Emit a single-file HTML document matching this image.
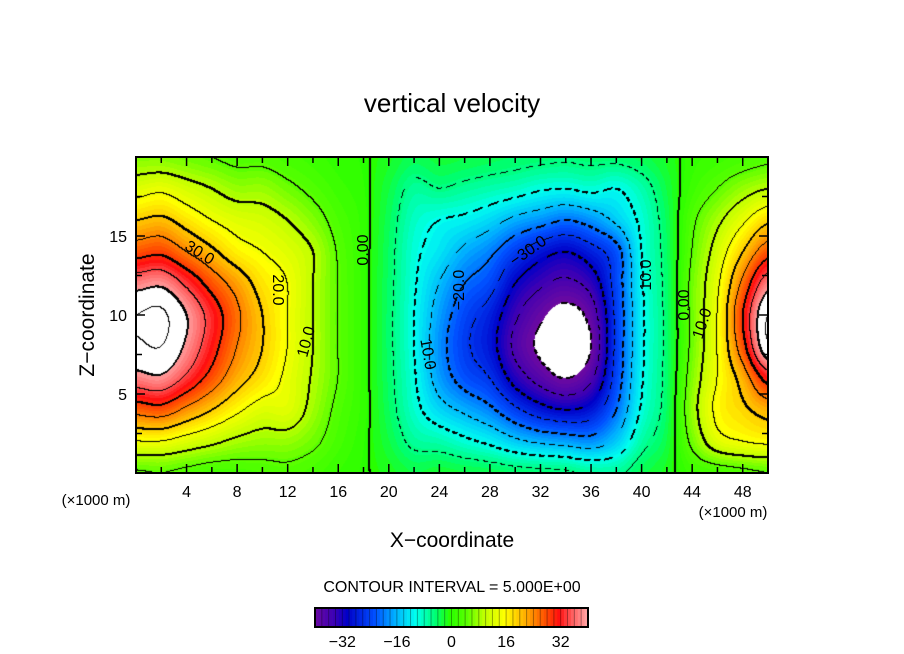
<!DOCTYPE html>
<html><head><meta charset="utf-8">
<style>
body{margin:0;background:#fff;width:904px;height:654px;overflow:hidden;position:relative;font-family:"Liberation Sans",sans-serif}
#field{position:absolute;left:136px;top:157px}
svg{position:absolute;left:0;top:0}
</style></head>
<body>
<canvas id="field" width="632" height="316"></canvas>
<svg id="svg" width="904" height="654"></svg>
<script>
// grid x = 0,2,...,50 ; z = 0,2,...,20 (rows by z ascending)
const xs = [0,2,4,6,8,10,12,14,16,18,20,22,24,26,28,30,32,34,36,38,40,42,44,46,48,50];
const zs = [0,2,4,6,8,10,12,14,16,18,20];
const grid = [
 [4.5,5,4,3,3,3.5,4,3,1.5,0.3, -1,-2.5,-1.8,-2.4,-2.8,-3.6,-4.1,-4.4,-6,-6,-3,-1, 2,3,4,5],
 [15,15,13,11,9,8,8,6,3,0.6, -2.4,-6,-7,-9,-11,-14,-16,-17,-18,-14,-6.6,-2.4, 6,13,15,16],
 [27,28,24,20,16,13,13,8.5,4,1, -3.4,-8.5,-13,-16,-19,-24,-28,-30,-28,-20,-9.4,-3.4, 8,16,19,22],
 [38,39,34,28,22,18,14,9.5,5,1, -3.8,-9.5,-17,-22,-25,-32,-37,-40,-36,-23,-10.5,-3.8, 7,15,22,32],
 [44,45,39,32,25,20,15,10,5,1, -4,-10,-18,-24,-28,-36,-41,-44,-40,-24,-11,-4, 6,15,28,44],
 [45,46,40,33,26,20,15,10,5,1, -4,-10,-17,-23,-27,-34,-39,-42,-38,-24,-11,-4, 6,15,30,45],
 [38,39,34,28,23,18,15,10,5,1, -3.8,-9.5,-15,-20,-23,-30,-34,-36,-33,-23,-10.5,-3.8, 6,14,26,38],
 [28,29,25,21,17,15,13,10,4.7,1, -3.6,-9,-12,-16,-19,-24,-28,-30,-27,-22,-10,-3.6, 5,12,20,28],
 [20,21,18,15,13,12,10,7,3.5,1, -3.2,-8,-10,-11,-13,-16,-18,-20,-18,-14,-9,-3.2, 4,9,14,19],
 [13,14,12,10,8,8,6,4,2,0.6, -2.4,-6,-5,-6,-7,-8,-9.5,-10,-9,-10,-7,-2.4, 2,5,8,10],
 [7,7,6,5,4,4,3,2,1,0.3, -1.2,-3,-2,-2.4,-3,-3.6,-4,-4.4,-4,-4,-3,-1.2, 1,2,3,4]
];
const cbTicks = [-32,-16,0,16,32];
const xTicks = [4,8,12,16,20,24,28,32,36,40,44,48];
const zTicks = [5,10,15];
const stopV = [-40,-34,-30,-22,-16,-10,-4,0,5,10,16,22,28,32,36,40];
const stopC = [[110,10,160],[60,0,180],[0,0,200],[0,80,255],[0,176,255],[0,255,238],[0,255,110],[40,255,0],[90,255,0],[190,255,0],[255,255,0],[255,176,0],[255,80,0],[255,16,16],[255,96,96],[255,160,160]];

const X0=136,W=632,Z0=473,H=316, PX=12.64, PZ=15.8;
const sx=x=>X0+x*PX, sz=z=>Z0-z*PZ;
function color(v){
  if(v>40||v<-40) return [255,255,255];
  v=Math.round(v);
  for(let i=0;i<stopV.length-1;i++){
    if(v<=stopV[i+1]){const t=(v-stopV[i])/(stopV[i+1]-stopV[i]);
      return stopC[i].map((c,k)=>Math.round(c+(stopC[i+1][k]-c)*t));}
  }
  return stopC[stopC.length-1];
}
function cr(p0,p1,p2,p3,t){
  return 0.5*((2*p1)+(-p0+p2)*t+(2*p0-5*p1+4*p2-p3)*t*t+(-p0+3*p1-3*p2+p3)*t*t*t);
}
function g(j,i){j=Math.max(0,Math.min(zs.length-1,j));i=Math.max(0,Math.min(xs.length-1,i));return grid[j][i];}
function val(x,z){
  let i=Math.min(Math.max(Math.floor(x/2),0),xs.length-2), j=Math.min(Math.max(Math.floor(z/2),0),zs.length-2);
  let tx=Math.min(Math.max((x-xs[i])/2,0),1), tz=Math.min(Math.max((z-zs[j])/2,0),1);
  const r=[];
  for(let jj=-1;jj<=2;jj++) r.push(cr(g(j+jj,i-1),g(j+jj,i),g(j+jj,i+1),g(j+jj,i+2),tx));
  return cr(r[0],r[1],r[2],r[3],tz);
}
const cv=document.getElementById('field'),ctx=cv.getContext('2d');
const img=ctx.createImageData(W,H);
const V=new Float32Array(W*H);
for(let py=0;py<H;py++)for(let px=0;px<W;px++){
  V[py*W+px]=val((px+0.5)/PX,(H-py-0.5)/PZ);
}
const M=new Uint8Array(W*H);
function mark(px,py,m,neg,thick){
  if(neg&&((px+py)%10)>=6)return;
  M[py*W+px]=1;
  if(thick){ if(px+1<W)M[py*W+px+1]=1; if(py+1<H)M[(py+1)*W+px]=1; }
}
for(let py=0;py<H;py++)for(let px=0;px<W;px++){
  const v=V[py*W+px],lv=Math.floor(v/5);
  if(px<W-1){const l2=Math.floor(V[py*W+px+1]/5);if(l2!==lv){const m=Math.max(lv,l2)*5;mark(px,py,m,m<0,m%10===0);}}
  if(py<H-1){const l2=Math.floor(V[(py+1)*W+px]/5);if(l2!==lv){const m=Math.max(lv,l2)*5;mark(px,py,m,m<0,m%10===0);}}
}
for(let py=0;py<H;py++)for(let px=0;px<W;px++){
  const c=M[py*W+px]?[0,0,0]:color(V[py*W+px]);
  const k=(py*W+px)*4;img.data[k]=c[0];img.data[k+1]=c[1];img.data[k+2]=c[2];img.data[k+3]=255;
}
ctx.putImageData(img,0,0);

const NS='http://www.w3.org/2000/svg',svg=document.getElementById('svg');
function el(tag,attrs,parent){const e=document.createElementNS(NS,tag);for(const k in attrs)e.setAttribute(k,attrs[k]);(parent||svg).appendChild(e);return e;}
function txt(s,x,y,size,anchor,rot,name){
  const t=el('text',{x:x,y:y,'font-size':size,'text-anchor':anchor||'middle','font-family':'Liberation Sans, sans-serif',fill:'#000'});
  if(rot)t.setAttribute('transform','rotate('+rot+' '+x+' '+y+')');
  t.textContent=s;
  
  
  return t;
}
const fr=el('rect',{x:X0,y:157,width:W,height:H,fill:'none',stroke:'#000','stroke-width':2});


for(let x=2;x<50;x+=2){
  const L=(x%4===0)?9:6;
  const t1=el('line',{x1:sx(x),x2:sx(x),y1:Z0,y2:Z0-L,stroke:'#000','stroke-width':1.5});
  
  
  const t2=el('line',{x1:sx(x),x2:sx(x),y1:157,y2:157+L,stroke:'#000','stroke-width':1.5});
  
  
}
for(let z=2.5;z<20;z+=2.5){
  const L=(z%5===0)?9:6;
  const t1=el('line',{x1:X0,x2:X0+L,y1:sz(z),y2:sz(z),stroke:'#000','stroke-width':1.5});
  
  
  const t2=el('line',{x1:X0+W-L,x2:X0+W,y1:sz(z),y2:sz(z),stroke:'#000','stroke-width':1.5});
  
  
}
xTicks.forEach(x=>txt(String(x),sx(x),497,16,'middle',0,'x-tick-label'));
zTicks.forEach(z=>txt(String(z),127,sz(z)+6,16,'end',0,'z-tick-label'));
txt('vertical velocity',452,112,26,'middle',0,'chart-title');
txt('X\u2212coordinate',452,547,21,'middle',0,'x-axis-title');
txt('Z\u2212coordinate',94,315,21,'middle',-90,'z-axis-title');
txt('(\u00d71000 m)',96,505,15,'middle',0,'x-unit-left');
txt('(\u00d71000 m)',733,517,15,'middle',0,'x-unit-right');
txt('CONTOUR INTERVAL = 5.000E+00',452,592,16,'middle',0,'contour-interval');
txt('30.0',197,257,16,'middle',32,'contour-label');
txt('20.0',273,290,16,'middle',90,'contour-label');
txt('10.0',311,343,16,'middle',-75,'contour-label');
txt('0.00',368,250,16,'middle',-90,'contour-label');
txt('10.0',423,355,16,'middle',80,'contour-label');
txt('\u221220.0',464,290,16,'middle',-90,'contour-label');
txt('\u221230.0',531,255,16,'middle',-35,'contour-label');
txt('10.0',651,275,16,'middle',-90,'contour-label');
txt('0.00',689,305,16,'middle',-90,'contour-label');
txt('10.0',707,325,16,'middle',-72,'contour-label');
const CB0=315,CB1=588,cbw=(CB1-CB0)/80;
for(let v=-40;v<40;v++){
  const c=color(v+0.5);
  const r=el('rect',{x:CB0+(v+40)*cbw,y:608,width:cbw+0.3,height:19,fill:'rgb('+c.join(',')+')'});
  
  
  if(v%2===0){
    const l=el('line',{x1:CB0+(v+40)*cbw,x2:CB0+(v+40)*cbw,y1:608,y2:627,stroke:'#000','stroke-opacity':0.35,'stroke-width':1});
    
    
  }
}
const cbf=el('rect',{x:CB0,y:608,width:CB1-CB0,height:19,fill:'none',stroke:'#000','stroke-width':2});


cbTicks.forEach(v=>txt(v<0?'\u2212'+(-v):String(v),CB0+(v+40)*cbw,647,16,'middle',0,'colorbar-label'));
</script>
</body></html>
